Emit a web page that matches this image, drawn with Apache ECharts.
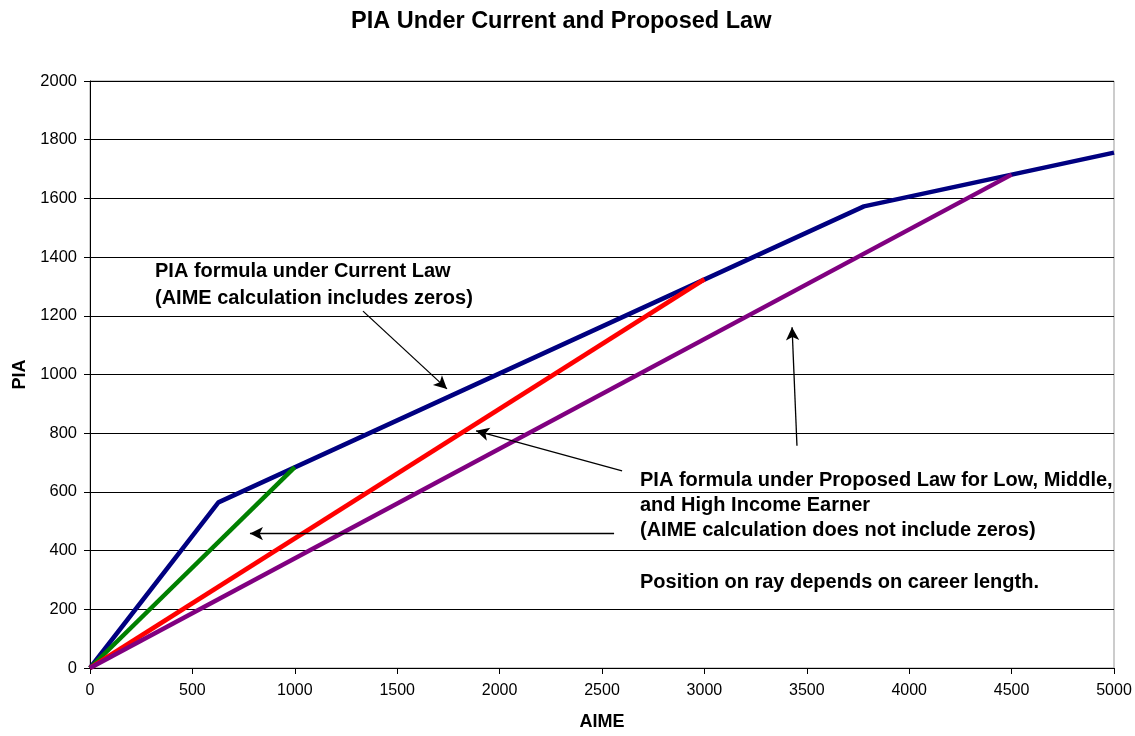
<!DOCTYPE html>
<html><head><meta charset="utf-8">
<script src="https://cdn.jsdelivr.net/npm/echarts@6/dist/echarts.min.js"></script>
<style>html,body{margin:0;padding:0;background:#fff}#c{width:1135px;height:736px}</style>
</head><body><div id="c"></div>
<script>
// Data
const currentAIME = [0, 627, 3779, 5000];
const currentPIA  = [0, 564.3, 1572.9, 1756.0];
const lowAIME = [0, 1000];
const lowPIA  = [0, 684.6];
const midAIME = [0, 3000];
const midPIA  = [0, 1324.6];
const highAIME = [0, 4500];
const highPIA  = [0, 1681.0];
// annotation arrows: [fromX, fromY, toX, toY] in data units
const arrows = [
  [1333, 1216, 1743, 951],
  [2598, 672, 1885, 808],
  [2559, 458, 781, 458],
  [3452, 757, 3428, 1161]
];

const pts = (xs, ys) => xs.map((x, i) => [x, ys[i]]);
const F = 'Liberation Sans, Arial, sans-serif';

const chart = echarts.init(document.getElementById('c'));
const lineSeries = (name, data, color) => ({
  name, type: 'line', data, symbol: 'none', silent: true,
  lineStyle: { color, width: 4.5 }, animation: false
});

chart.setOption({
  animation: false,
  title: {
    text: 'PIA Under Current and Proposed Law',
    left: 346, top: 5,
    textStyle: { fontFamily: F, fontSize: 23.5, fontWeight: 'bold', color: '#000' }
  },
  grid: { left: 90, right: 21, top: 81, bottom: 66, show: true, borderColor: '#999', borderWidth: 1, backgroundColor: 'transparent' },
  xAxis: {
    type: 'value', min: 0, max: 5000, interval: 500,
    name: 'AIME', nameLocation: 'middle', nameGap: 45,
    nameTextStyle: { fontFamily: F, fontSize: 18, fontWeight: 'bold', color: '#000' },
    axisLine: { show: true, lineStyle: { color: '#000', width: 1 } },
    axisTick: { show: true, length: 6, lineStyle: { color: '#000' } },
    axisLabel: { fontFamily: F, fontSize: 16, color: '#000', margin: 15, formatter: v => String(v) },
    splitLine: { show: false }
  },
  yAxis: {
    type: 'value', min: 0, max: 2000, interval: 200,
    name: 'PIA', nameLocation: 'middle', nameGap: 61, nameRotate: 90,
    nameTextStyle: { fontFamily: F, fontSize: 18, fontWeight: 'bold', color: '#000' },
    axisLine: { show: true, lineStyle: { color: '#000', width: 1 } },
    axisTick: { show: true, length: 6, lineStyle: { color: '#000' } },
    axisLabel: { fontFamily: F, fontSize: 16.5, color: '#000', margin: 13, formatter: v => String(v) },
    splitLine: { show: true, lineStyle: { color: '#000', width: 1 } }
  },
  series: [
    Object.assign(lineSeries('Current', pts(currentAIME, currentPIA), '#000080'), {
      markLine: {
        silent: true, symbol: ['none', 'arrow'], symbolSize: [10, 13],
        label: { show: false },
        lineStyle: { color: '#000', width: 1.3, type: 'solid' },
        data: arrows.map(a => [{ coord: [a[0], a[1]] }, { coord: [a[2], a[3]] }])
      }
    }),
    lineSeries('Low', pts(lowAIME, lowPIA), '#008000'),
    lineSeries('Middle', pts(midAIME, midPIA), '#ff0000'),
    lineSeries('High', pts(highAIME, highPIA), '#800080')
  ],
  graphic: [
    { type: 'text', left: 155, top: 258, style: { text: 'PIA formula under Current Law\n(AIME calculation includes zeros)', font: 'bold 20px ' + F, fill: '#000', lineHeight: 27 } },
    { type: 'text', left: 640, top: 468, style: { text: 'PIA formula under Proposed Law for Low, Middle,\nand High Income Earner\n(AIME calculation does not include zeros)', font: 'bold 20px ' + F, fill: '#000', lineHeight: 25 } },
    { type: 'text', left: 640, top: 570, style: { text: 'Position on ray depends on career length.', font: 'bold 20px ' + F, fill: '#000', lineHeight: 25 } }
  ]
});
</script></body></html>
